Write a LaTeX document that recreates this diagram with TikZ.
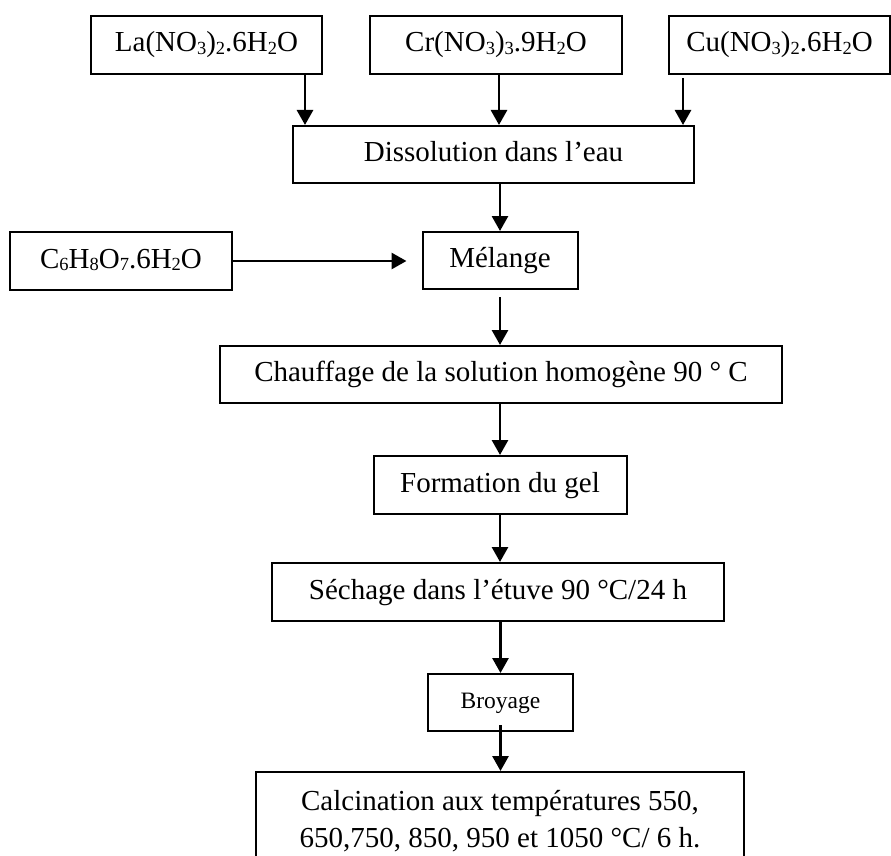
\documentclass[tikz,border=0pt]{standalone}
\usepackage{fontspec}
\setmainfont{Liberation Serif}
\usetikzlibrary{arrows.meta}
\newcommand{\sbs}[1]{\raisebox{-0.1em}{\fontsize{18.5}{18.5}\selectfont #1}}
\begin{document}
\begin{tikzpicture}[x=1pt,y=-1pt,
  box/.style={draw, line width=2pt, inner sep=0pt, align=center, font=\fontsize{29}{37}\selectfont},
  one/.style={text height=19pt, text depth=5pt},
  small/.style={font=\fontsize{23.5}{28}\selectfont, text height=15pt, text depth=4pt},
  arr/.style={line width=2.8pt, -{Triangle[width=16pt,length=15pt]}}]
\clip (0,0) rectangle (891,856);
% top row
\node[box, one, minimum width=231pt, minimum height=58pt] (la) at (206.5,45) {La(NO\sbs{3})\sbs{2}.6H\sbs{2}O};
\node[box, one, minimum width=252pt, minimum height=58pt] (cr) at (496,45) {Cr(NO\sbs{3})\sbs{3}.9H\sbs{2}O};
\node[box, one, minimum width=221pt, minimum height=58pt] (cu) at (779.5,45) {Cu(NO\sbs{3})\sbs{2}.6H\sbs{2}O};
% chain
\node[box, one, minimum width=401pt, minimum height=57pt] (dis) at (493.5,154.5) {Dissolution dans l’eau};
\node[box, one, minimum width=222pt, minimum height=58pt] (cit) at (121,261) {C\sbs{6}H\sbs{8}O\sbs{7}.6H\sbs{2}O};
\node[box, one, minimum width=155pt, minimum height=57pt] (mel) at (500,260.5) {Mélange};
\node[box, one, minimum width=562pt, minimum height=57pt] (chf) at (501,374.5) {Chauffage de la solution homogène 90 ° C};
\node[box, one, minimum width=253pt, minimum height=58pt] (gel) at (500,485) {Formation du gel};
\node[box, one, minimum width=452pt, minimum height=58pt] (sec) at (498,592) {Séchage dans l’étuve 90 °C/24 h};
\node[box, small, minimum width=145pt, minimum height=57pt] (bro) at (500.5,702.5) {Broyage};
\node[box, minimum width=488pt, minimum height=98pt] (cal) at (500,821) {Calcination aux températures 550,\\650,750, 850, 950 et 1050 °C/ 6 h.};
% connectors
\draw[arr] ([xshift=-18pt]la.south east) -- ([xshift=-18pt]la.south east |- dis.north);
\draw[arr] ([xshift=3pt]cr.south) -- ([xshift=3pt]cr.south |- dis.north);
\draw[arr] ([xshift=15pt,yshift=-3pt]cu.south west) -- ([xshift=15pt]cu.south west |- dis.north);
\draw[arr] (mel.north |- dis.south) -- (mel.north);
\draw[arr] (cit.east) -- ([xshift=-15pt]mel.west |- cit.east);
\draw[arr] ([yshift=-7pt]mel.south) -- (mel.south |- chf.north);
\draw[arr] (gel.north |- chf.south) -- (gel.north);
\draw[arr] (gel.south) -- (gel.south |- sec.north);
\draw[arr] (bro.north |- sec.south) -- (bro.north);
\draw[arr] ([yshift=7pt]bro.south) -- (bro.south |- cal.north);
\end{tikzpicture}
\end{document}
